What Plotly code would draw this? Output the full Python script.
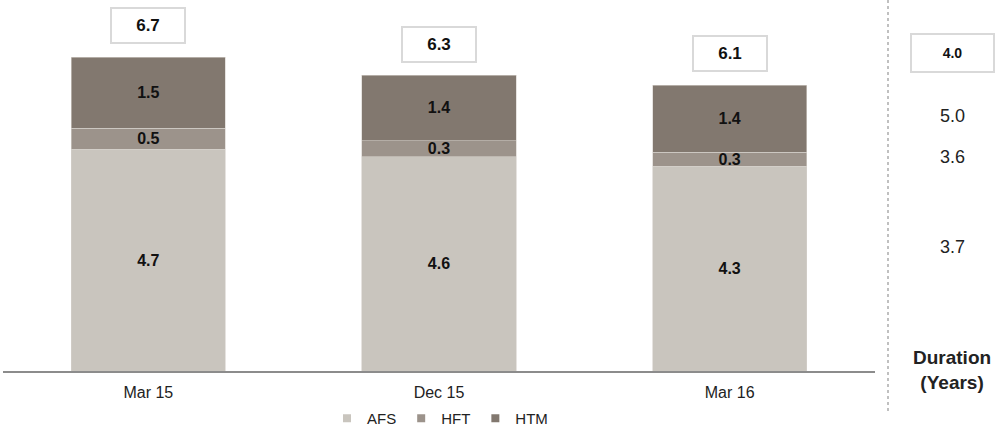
import plotly.graph_objects as go

categories = ["Mar 15", "Dec 15", "Mar 16"]
afs = [4.73, 4.57, 4.37]
hft = [0.45, 0.34, 0.29]
htm = [1.51, 1.40, 1.43]
afs_labels = ["4.7", "4.6", "4.3"]
hft_labels = ["0.5", "0.3", "0.3"]
htm_labels = ["1.5", "1.4", "1.4"]
totals = [6.7, 6.3, 6.1]
total_labels = ["6.7", "6.3", "6.1"]
duration_total = "4.0"
durations = ["5.0", "3.6", "3.7"]

colors = {"AFS": "#c9c5be", "HFT": "#9c938b", "HTM": "#82786f"}
FONT = "Liberation Sans, Arial, sans-serif"

fig = go.Figure()
for name, vals, labs in [("AFS", afs, afs_labels), ("HFT", hft, hft_labels), ("HTM", htm, htm_labels)]:
    fig.add_trace(go.Bar(
        name=name, x=categories, y=vals, text=labs, textposition="inside",
        insidetextanchor="middle", constraintext="none",
        textfont=dict(family=FONT, size=16, color="#111111", weight="bold"),
        marker=dict(color=colors[name], line=dict(width=0.6, color="#d5d1cb")),
        width=0.53, hoverinfo="skip", showlegend=False,
    ))
# legend entries (square markers like the reference)
for name in ["AFS", "HFT", "HTM"]:
    fig.add_trace(go.Scatter(
        name=name, x=[None], y=[None], mode="markers",
        marker=dict(symbol="square", size=8, color=colors[name]), showlegend=True,
    ))

annotations = []
for c, t, lab in zip(categories, totals, total_labels):
    annotations.append(dict(
        x=c, y=t, xref="x", yref="y", text="<b>%s</b>" % lab, showarrow=False,
        yshift=31, yanchor="middle", width=70, height=31, borderwidth=2,
        bordercolor="#d9d9d9", borderpad=1, bgcolor="white",
        font=dict(family=FONT, size=17, color="#111111"),
    ))

xd = (952 - 3) / 872
annotations.append(dict(
    x=xd, y=(371 - 53) / 371, xref="paper", yref="paper", text="<b>%s</b>" % duration_total,
    showarrow=False, xanchor="center", yanchor="middle", width=79, height=34,
    borderwidth=2, bordercolor="#d9d9d9", borderpad=1, bgcolor="white",
    font=dict(family=FONT, size=14, color="#111111"),
))
for ypx, d in zip([116, 157, 247], durations):
    annotations.append(dict(
        x=xd, y=(371 - ypx) / 371, xref="paper", yref="paper", text=d, showarrow=False,
        xanchor="center", yanchor="middle", font=dict(family=FONT, size=18, color="#222222"),
    ))
annotations.append(dict(
    x=xd, y=(371 - 370) / 371, xref="paper", yref="paper", text="<b>Duration<br>(Years)</b>",
    showarrow=False, xanchor="center", yanchor="middle",
    font=dict(family=FONT, size=19, color="#222222"),
))

fig.update_layout(
    barmode="stack",
    width=996, height=426,
    margin=dict(l=3, r=121, t=0, b=55, autoexpand=False),
    plot_bgcolor="white", paper_bgcolor="white",
    font=dict(family=FONT, size=14, color="#222222"),
    annotations=annotations,
    showlegend=True,
    legend=dict(orientation="h", x=(440 - 3) / 872, xanchor="center", y=(371 - 402) / 371,
                yanchor="top", font=dict(family=FONT, size=15, color="#222222"),
                itemwidth=30, traceorder="normal", tracegroupgap=0,
                bgcolor="rgba(0,0,0,0)"),
    shapes=[dict(type="line", xref="paper", yref="paper", x0=(888 - 3) / 872, x1=(888 - 3) / 872,
                 y0=1.0, y1=(371 - 413) / 371, line=dict(color="#c0c0c0", width=2, dash="dot"))],
)
fig.update_xaxes(showline=True, linecolor="#8c8c8c", linewidth=2, ticks="", showgrid=False,
                 ticklabelstandoff=6,
                 tickfont=dict(family=FONT, size=16, color="#222222"), range=[-0.5, 2.5])
fig.update_yaxes(visible=False, range=[0, 371 / 46.9], showgrid=False)

fig.write_html("out.html", post_script="document.body.style.margin='0';",
               config={"displayModeBar": False})
